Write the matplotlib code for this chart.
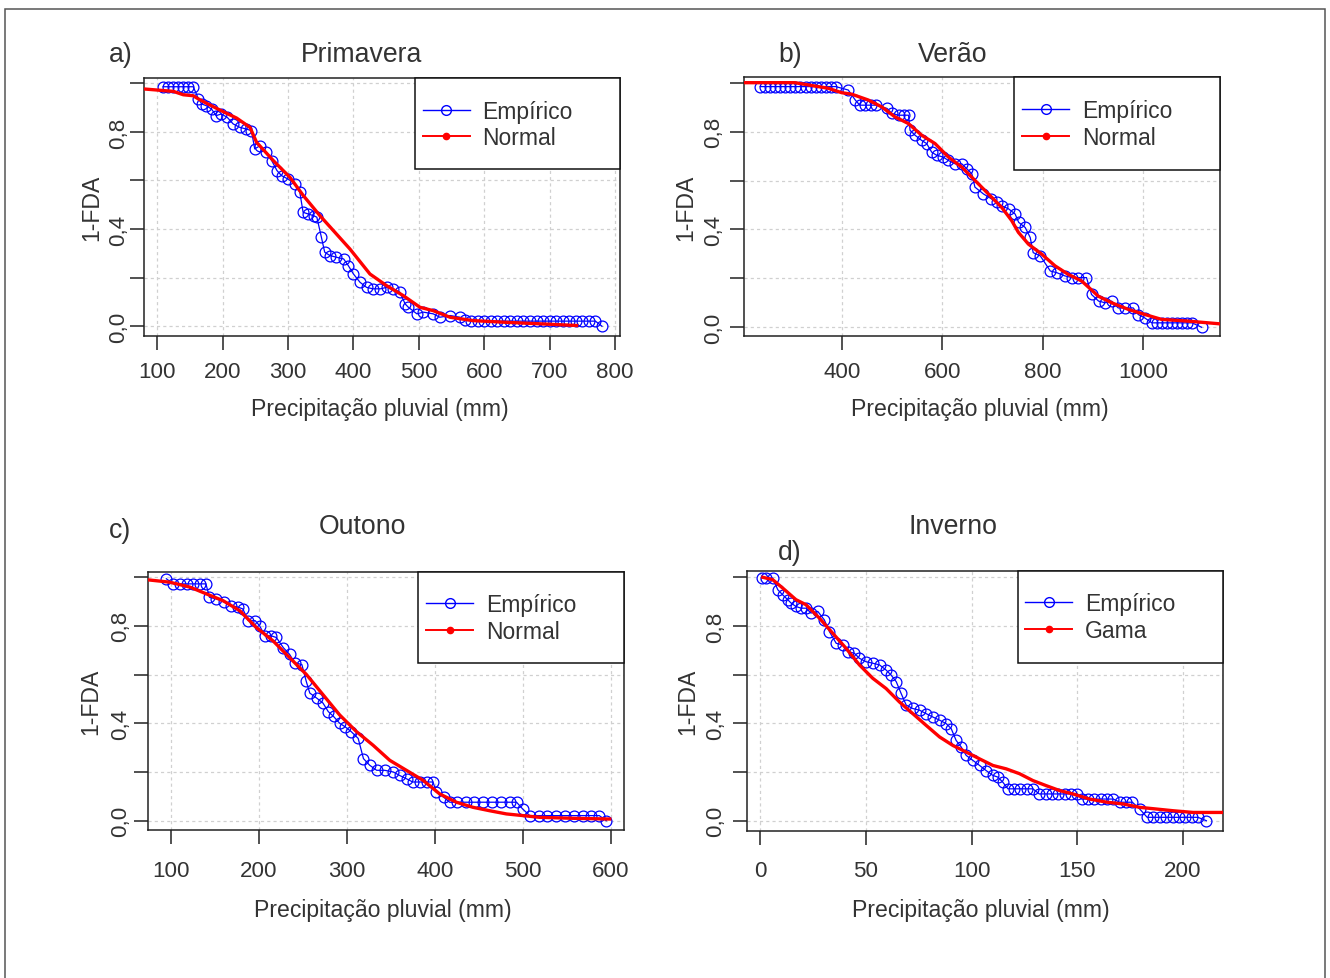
import matplotlib
matplotlib.use("Agg")
import matplotlib.pyplot as plt
from matplotlib.patches import Rectangle
from matplotlib.lines import Line2D

plt.rcParams["font.family"] = ["Liberation Sans", "DejaVu Sans"]

# ---------------- data ----------------
# a) Primavera
prim_emp_x = [109, 117, 124, 132, 140, 147, 155, 163, 168, 175, 183, 190, 198, 207, 216, 226, 236, 244,
              249, 257, 266, 275, 283, 290, 300, 311, 318, 323, 331, 339, 344, 351, 356, 364, 374, 385,
              392, 400, 410, 420, 430, 441, 451, 461, 471, 479, 484, 497, 507, 522, 532, 548, 563, 571,
              580, 590, 600, 610, 620, 630, 640, 650, 660, 670, 680, 690, 700, 710, 720, 730, 740, 750,
              760, 770, 780]
prim_emp_y = [0.986, 0.986, 0.986, 0.986, 0.986, 0.986, 0.986, 0.936, 0.915, 0.908, 0.894, 0.867, 0.874,
              0.860, 0.833, 0.819, 0.812, 0.805, 0.730, 0.743, 0.716, 0.682, 0.641, 0.620, 0.606, 0.586,
              0.551, 0.469, 0.462, 0.455, 0.449, 0.366, 0.305, 0.291, 0.284, 0.277, 0.250, 0.215, 0.181,
              0.160, 0.154, 0.154, 0.160, 0.154, 0.140, 0.092, 0.078, 0.051, 0.058, 0.051, 0.037, 0.044,
              0.037, 0.025, 0.021, 0.021, 0.021, 0.021, 0.021, 0.021, 0.021, 0.021, 0.021, 0.021, 0.021,
              0.021, 0.021, 0.021, 0.021, 0.021, 0.021, 0.021, 0.021, 0.021, 0.0]
prim_fit_x = [79, 124.5, 139.8, 155, 162.7, 175.4, 195.8, 221.3, 241.7, 251.9, 277.4, 302.9, 323.3,
              348.8, 369.2, 394.6, 425.2, 450.7, 476.2, 501.7, 522.1, 547.6, 583.3, 634.2, 685.2, 741.3]
prim_fit_y = [0.977, 0.967, 0.953, 0.949, 0.936, 0.918, 0.890, 0.857, 0.819, 0.757, 0.682, 0.613, 0.538,
              0.455, 0.394, 0.318, 0.215, 0.167, 0.126, 0.078, 0.064, 0.037, 0.023, 0.016, 0.010, 0.003]

# b) Verao
ver_emp_x = [238, 248, 258, 268, 278, 288, 298, 308, 318, 328, 338, 348, 358, 368, 378, 388, 413, 427,
             436, 447, 458, 469, 490, 500, 513, 523, 533, 536, 546, 559, 569, 579, 589, 602, 612, 626,
             639, 649, 659, 665, 682, 698, 708, 718, 732, 745, 752, 765, 775, 781, 795, 815, 828, 844,
             858, 871, 887, 897, 911, 924, 937, 950, 964, 980, 990, 1003, 1017, 1027, 1037, 1047, 1057,
             1067, 1077, 1087, 1097, 1116]
ver_emp_y = [0.984, 0.984, 0.984, 0.984, 0.984, 0.984, 0.984, 0.984, 0.984, 0.984, 0.984, 0.984, 0.984,
             0.984, 0.984, 0.984, 0.970, 0.929, 0.908, 0.908, 0.908, 0.908, 0.895, 0.874, 0.867, 0.867,
             0.867, 0.805, 0.785, 0.764, 0.751, 0.716, 0.703, 0.696, 0.682, 0.668, 0.668, 0.648, 0.627,
             0.573, 0.545, 0.525, 0.511, 0.497, 0.484, 0.463, 0.429, 0.408, 0.367, 0.305, 0.292, 0.230,
             0.223, 0.210, 0.203, 0.203, 0.203, 0.134, 0.107, 0.100, 0.107, 0.079, 0.079, 0.079, 0.052,
             0.038, 0.018, 0.018, 0.018, 0.018, 0.018, 0.018, 0.018, 0.018, 0.018, 0.0]
ver_fit_x = [204, 307, 373.5, 400, 419.9, 453, 479.6, 506.1, 532.6, 559.2, 585.7, 612.2, 638.7, 665.3,
             691.8, 718.3, 738.2, 751.5, 771.4, 797.9, 824.4, 850.9, 877.5, 910.6, 937.1, 970.3, 1003.4,
             1036.6, 1089.7, 1152]
ver_fit_y = [1.0, 1.0, 0.977, 0.959, 0.953, 0.929, 0.901, 0.860, 0.833, 0.785, 0.751, 0.696, 0.655, 0.600,
             0.545, 0.490, 0.436, 0.388, 0.340, 0.299, 0.251, 0.216, 0.189, 0.127, 0.100, 0.073, 0.052,
             0.032, 0.025, 0.014]

# c) Outono
out_emp_x = [95, 103, 110, 118, 125, 133, 140, 144, 152, 161, 169, 177, 182, 188, 196, 201, 207, 214,
             220, 228, 235, 241, 249, 254, 258, 266, 273, 279, 285, 292, 298, 305, 313, 319, 326, 334,
             343, 353, 360, 368, 375, 383, 391, 398, 402, 410, 417, 425, 435, 445, 455, 465, 475, 485,
             493, 500, 508, 518, 528, 538, 548, 558, 568, 578, 587, 595]
out_emp_y = [0.993, 0.972, 0.972, 0.972, 0.972, 0.972, 0.972, 0.917, 0.910, 0.897, 0.883, 0.876, 0.869,
             0.821, 0.821, 0.800, 0.759, 0.759, 0.752, 0.710, 0.683, 0.648, 0.641, 0.572, 0.524, 0.503,
             0.483, 0.448, 0.428, 0.400, 0.386, 0.366, 0.338, 0.255, 0.228, 0.207, 0.207, 0.200, 0.186,
             0.172, 0.159, 0.159, 0.159, 0.159, 0.117, 0.097, 0.076, 0.076, 0.076, 0.076, 0.076, 0.076,
             0.076, 0.076, 0.076, 0.048, 0.021, 0.021, 0.021, 0.021, 0.021, 0.021, 0.021, 0.021, 0.021,
             0.0]
out_fit_x = [73, 98.9, 121.6, 140.5, 159.5, 178.4, 197.3, 216.3, 235.2, 254.2, 273.1, 292, 311, 329.9,
             348.9, 367.8, 386.7, 405.7, 424.6, 443.6, 462.5, 481.4, 500.4, 519.3, 557.2, 598.9]
out_fit_y = [0.989, 0.979, 0.959, 0.931, 0.903, 0.862, 0.793, 0.738, 0.669, 0.600, 0.517, 0.434, 0.366,
             0.310, 0.248, 0.207, 0.166, 0.110, 0.076, 0.055, 0.041, 0.028, 0.021, 0.014, 0.010, 0.007]

# d) Inverno
inv_emp_x = [1, 3, 6, 8.4, 10.7, 13.1, 14.7, 17, 19.4, 21.8, 24.1, 27.3, 30.4, 32.8, 36, 39.1, 41.5, 44.6,
             47, 50.2, 53.3, 56.5, 59.6, 62, 64.4, 66.7, 69.1, 72.2, 75.4, 78.5, 81.7, 84.9, 88, 90.4,
             92.7, 95.1, 97.5, 100.6, 103.8, 106.9, 110.1, 112.5, 114.8, 117.2, 120, 123, 126, 129, 132,
             135, 138, 141, 144, 147, 150, 152, 155, 158, 161, 164, 167, 170, 173, 176, 179.5, 183, 186,
             189, 192, 195, 198, 201, 204, 207, 211]
inv_emp_y = [0.997, 0.997, 0.997, 0.949, 0.928, 0.908, 0.894, 0.880, 0.873, 0.873, 0.853, 0.860, 0.825,
             0.777, 0.729, 0.722, 0.695, 0.688, 0.667, 0.653, 0.647, 0.640, 0.619, 0.598, 0.571, 0.523,
             0.475, 0.461, 0.454, 0.440, 0.426, 0.413, 0.399, 0.378, 0.330, 0.303, 0.268, 0.248, 0.227,
             0.206, 0.186, 0.179, 0.158, 0.131, 0.131, 0.131, 0.131, 0.131, 0.110, 0.110, 0.110, 0.110,
             0.110, 0.110, 0.110, 0.089, 0.089, 0.089, 0.089, 0.089, 0.089, 0.076, 0.076, 0.076, 0.048,
             0.014, 0.014, 0.014, 0.014, 0.014, 0.014, 0.014, 0.014, 0.014, 0.0]
inv_fit_x = [1.3, 6.0, 10.7, 17, 21.8, 28.1, 34.4, 40.7, 47, 53.3, 59.6, 65.9, 72.2, 78.5, 84.9, 91.2,
             97.5, 103.8, 110.1, 116.4, 122.7, 129, 135.3, 141.6, 147.9, 155.8, 164, 171.6, 179.5, 187.4,
             195.3, 204.7, 219]
inv_fit_y = [1.0, 0.990, 0.956, 0.908, 0.887, 0.832, 0.770, 0.708, 0.640, 0.585, 0.543, 0.488, 0.440,
             0.392, 0.344, 0.309, 0.282, 0.254, 0.227, 0.213, 0.193, 0.165, 0.144, 0.124, 0.110, 0.089,
             0.076, 0.069, 0.055, 0.048, 0.041, 0.034, 0.034]

titles = ["Primavera", "Verão", "Outono", "Inverno"]
letters = ["a)", "b)", "c)", "d)"]
fit_labels = ["Normal", "Normal", "Normal", "Gama"]
emp_label = "Empírico"
x_label = "Precipitação pluvial (mm)"
y_label = "1-FDA"
xticks_all = [[100, 200, 300, 400, 500, 600, 700, 800],
              [400, 600, 800, 1000],
              [100, 200, 300, 400, 500, 600],
              [0, 50, 100, 150, 200]]
yticks = [0.0, 0.2, 0.4, 0.6, 0.8, 1.0]
ytick_labels = ["0,0", "", "0,4", "", "0,8", ""]

# ---------------- layout (pixel based) ----------------
W, H = 1330, 979
PT = 0.72  # points per pixel at dpi 100
TXT = "#333333"
fig = plt.figure(figsize=(W / 100, H / 100), dpi=100)
fig.patch.set_facecolor("white")

# outer frame
fig.add_artist(Rectangle((4.7 / W, -0.02), (1325 - 4.7) / W, 1 - 10 / H + 0.02,
                         transform=fig.transFigure, fill=False, edgecolor="#555555",
                         linewidth=1.1, clip_on=False))

panels = [
    dict(box=(144, 79, 620, 336.7), xlim=(79.7, 807.6), ylim=(-0.039, 1.022),
         emp=(prim_emp_x, prim_emp_y), fit=(prim_fit_x, prim_fit_y),
         leg=(415, 170), xpad=11.8, ypad=1.0,
         letter=(121, 61.7), title=(361.7, 61.7), ylab=(91.5, 207.9), xlab=(380, 416)),
    dict(box=(744, 78.3, 1220, 337.3), xlim=(205.6, 1152.6), ylim=(-0.037, 1.022),
         emp=(ver_emp_x, ver_emp_y), fit=(ver_fit_x, ver_fit_y),
         leg=(1014.3, 170.7), xpad=11.0, ypad=5.5,
         letter=(790, 61.7), title=(952.5, 61.7), ylab=(685.6, 207.8), xlab=(980, 416)),
    dict(box=(148.3, 572.7, 624, 831), xlim=(74.5, 615.1), ylim=(-0.038, 1.022),
         emp=(out_emp_x, out_emp_y), fit=(out_fit_x, out_fit_y),
         leg=(418.3, 664.3), xpad=16.2, ypad=3.5,
         letter=(120, 538.3), title=(362.2, 534.3), ylab=(90.6, 701.9), xlab=(382.5, 916.7)),
    dict(box=(747.3, 571.7, 1223.3, 831.7), xlim=(-6.0, 219.0), ylim=(-0.041, 1.027),
         emp=(inv_emp_x, inv_emp_y), fit=(inv_fit_x, inv_fit_y),
         leg=(1017.7, 664.3), xpad=15.3, ypad=7.5,
         letter=(790, 560), title=(952.7, 534.3), ylab=(688.1, 701.7), xlab=(981, 917)),
]

for i, p in enumerate(panels):
    l, t, r, b = p["box"]
    aw, ah = r - l, b - t
    ax = fig.add_axes([l / W, 1 - b / H, aw / W, ah / H])
    ax.set_xlim(*p["xlim"])
    ax.set_ylim(*p["ylim"])

    ax.grid(True, color="#d0d0d0", linestyle=(0, (2.5, 2.5)), linewidth=0.9)
    ax.set_axisbelow(True)

    ex, ey = p["emp"]
    fx_, fy_ = p["fit"]
    ax.plot(ex, ey, color="#0000ff", lw=0.9, marker="o", ms=7.8, mfc="none",
            mec="#0000ff", mew=0.9, zorder=3)
    ax.plot(fx_, fy_, color="#ff0000", lw=2.4, zorder=4, solid_joinstyle="round")

    ax.set_xticks(xticks_all[i])
    ax.set_xticklabels([str(v) for v in xticks_all[i]])
    ax.set_yticks(yticks)
    ax.set_yticklabels(ytick_labels, rotation=90, va="center")
    ax.tick_params(direction="out", length=10, width=1.1, color="#222222",
                   labelsize=16.1, labelcolor=TXT)
    ax.tick_params(axis="x", pad=p["xpad"] * PT)
    ax.tick_params(axis="y", pad=p["ypad"] * PT)
    for s in ax.spines.values():
        s.set_color("#222222")
        s.set_linewidth(1.1)

    # legend box
    legL, legB = p["leg"]
    x0 = (legL - l) / aw
    y0 = (b - legB) / ah
    ax.add_patch(Rectangle((x0, y0), 1 - x0, 1 - y0, transform=ax.transAxes,
                           facecolor="white", edgecolor="#111111", linewidth=1.1,
                           zorder=5, clip_on=False))
    handles = [
        Line2D([], [], color="#0000ff", lw=1.0, marker="o", ms=7, mfc="none",
               mec="#0000ff", mew=1.0),
        Line2D([], [], color="#ff0000", lw=1.4, marker="o", ms=4.5, mfc="#ff0000",
               mec="#ff0000"),
    ]
    leg = ax.legend(handles, [emp_label, fit_labels[i]], loc="upper left",
                    bbox_to_anchor=(x0, 1 - 14.0 / ah), borderaxespad=0, frameon=False,
                    fontsize=16.5, borderpad=0.34, labelspacing=0.15, handlelength=2.05,
                    handletextpad=0.55, numpoints=1, labelcolor=TXT)
    leg.set_zorder(6)

    # texts
    def ftxt(x, y, s, **kw):
        fig.text(x / W, 1 - y / H, s, color=TXT, **kw)

    ftxt(*p["letter"], letters[i], fontsize=19.2, ha="center", va="baseline")
    ftxt(*p["title"], titles[i], fontsize=19.2, ha="center", va="baseline")
    ftxt(*p["ylab"], y_label, fontsize=16.6, ha="center", va="center", rotation=90)
    ftxt(*p["xlab"], x_label, fontsize=16.6, ha="center", va="baseline")

fig.savefig("out.png", dpi=100, facecolor="white")
